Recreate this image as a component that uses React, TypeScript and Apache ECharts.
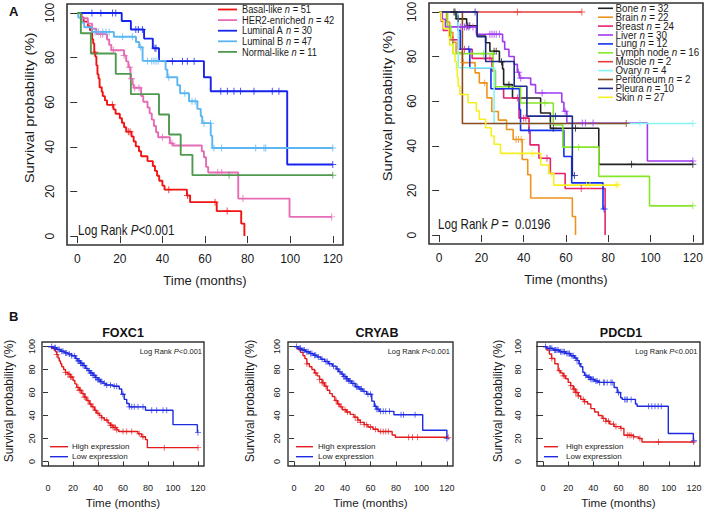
import React, { useEffect, useRef } from "react";
import * as echarts from "echarts";

// ---------- tick labels ----------
const xTicks = [0, 20, 40, 60, 80, 100, 120];
const yTicks = [0, 20, 40, 60, 80, 100];

// ---------- Panel A (PAM50 subtypes): steps [time, survival %], censor times ----------
const basalSteps = [[0,100],[2,98],[3,96.1],[5,94.1],[6,92.2],[7,88.2],[7.5,86.3],[8,82.4],[8.5,80.4],[9,76.5],[9.5,72.5],[10,70.6],[10.5,66.7],[11.5,64.7],[12,62.7],[13,60.8],[14,58.8],[17,56.8],[18,54.8],[20,52.8],[21,50.8],[22,48.8],[23,46.8],[25.5,44.6],[26.5,42.4],[27.5,40.2],[29,38],[30,35.8],[33,33.6],[35.5,31.4],[36.5,29.2],[37.5,27],[38.5,24.8],[40,22.6],[41,20.8],[51.5,18.2],[53,15.2],[65.5,11.2],[77,5.6],[78.5,0]];
const basalCensor = [8.2, 16.5, 24, 24.8, 43, 51.8, 64.7, 70.4];
const her2Steps = [[0,100],[2,97.6],[5,95.2],[7,92.9],[9,90.5],[14,88.1],[15,85.7],[16,83.3],[22,80.9],[23,78.3],[24,75.7],[25,70.5],[26,67.9],[26.5,66.5],[30,62.8],[31,60.2],[33,57.6],[34,55],[35,52.2],[36,49.3],[37,46.5],[38,44.3],[43.5,41.6],[45,40.6],[58.5,38],[59.5,35.3],[60.5,31],[61.5,28.5],[75.6,16.8],[99.7,8.6]];
const her2Censor = [11, 12, 17, 22, 24.5, 25.5, 27, 29, 40, 44.5, 66, 67.8, 77.8, 119.5];
const lumASteps = [[0,100],[20.9,96.4],[25.2,92.6],[31.4,88.5],[35.5,84.2],[38.4,78.4],[59.5,71.2],[62.7,64.9],[98.6,32.1]];
const lumACensor = [6.9, 11.1, 16.6, 18.1, 27.5, 28.7, 30.6, 36.5, 37, 44.7, 49.4, 51.7, 54.9, 67.4, 70.5, 73.6, 76.7, 83, 91.6, 94.7, 120];
const lumBSteps = [[0,100],[0.5,97.9],[2,95.7],[3.3,93.6],[6.9,91.5],[17.2,89.3],[27.6,87],[29.1,84.6],[30.7,78.5],[41.5,74.6],[42.3,71.2],[47,67.6],[48.3,64],[52.5,60.4],[56.4,57],[58,53.7],[58.7,50.6],[62.7,45],[63.4,39.5]];
const lumBCensor = [8.3, 10, 12, 13.5, 15, 21.3, 25.9, 29.8, 33, 35, 36, 37, 38, 43, 50.5, 53.9, 55.4, 59.5, 62.6, 64.2, 67.8, 83.8, 87.7, 88.5, 120];
const normalSteps = [[0,100],[1.7,90.9],[6.4,81.8],[18.1,72.7],[25.2,63.6],[38.4,54.5],[43.1,45.5],[48.6,36.4],[54.1,27.3]];
const normalCensor = [71.3, 120];

// ---------- Panel A right (metastatic sites) ----------
const boneSteps = [[0,100],[8,96.9],[13,93.8],[18,89.2],[22,86.2],[24,82.4],[28.5,77.7],[30,74.5],[30.5,67.4],[34.7,61.4],[48,54.7],[52.6,47.9],[75.5,31.7]];
const boneCensor = [7, 7.5, 9, 13.5, 14.5, 26, 27, 29.5, 33, 54, 64.5, 91, 120];
const brainSteps = [[0,100],[3.5,95.5],[5,90.9],[6.5,86.4],[8,81.8],[11,77.3],[17,72.7],[19,68.2],[22.6,61.5],[24.9,55.4],[28,51.5],[31.9,47.3],[35,42.8],[39.3,33.9],[41.9,27],[43.3,16.6],[63,8.3],[64.5,0]];
const brainCensor = [11.5, 21.5, 36.4, 37.5, 38.8];
const breastSteps = [[0,100],[1,95.8],[2,91.7],[5,87.5],[9,83.3],[15.6,79.2],[25,73.6],[26.6,65.5],[30.5,61.4],[37.8,52.4],[42.5,46.4],[43,40.4],[47.2,34.4],[52.6,27.6],[59.6,20.9],[78.5,0]];
const breastCensor = [6.5, 12, 24, 37, 40, 41, 51, 67.2];
const liverSteps = [[0,100],[1.5,96.7],[3,93.3],[17.6,90],[30,86.7],[31,83.3],[33,80],[35.5,76.5],[37,73],[38,70.4],[43.3,67.4],[45.6,63.7],[58,59.5],[59,55.5],[60.4,50.2],[98.5,33.2]];
const liverCensor = [10, 11, 12, 13, 14, 16, 24, 25, 26, 27, 28.5, 37.5, 38.6, 48.7, 59.6, 67.7, 69.2, 72.8, 120];
const lungSteps = [[0,100],[9,91.7],[10,83.3],[14.5,75],[24.5,65.6],[38,56.3],[38.5,46.9],[59,35.2],[62.7,23.4],[77.5,11.7]];
const lungCensor = [14, 42.5, 78];
const lymphSteps = [[0,100],[4,93.8],[5.5,87.5],[6.5,81.3],[25.5,73.9],[26.5,66.5],[38.5,59.2],[54,49.3],[58.5,39.4],[75.5,26.3],[99.5,13.1]];
const lymphCensor = [21, 25, 50, 66, 120];
const muscleSteps = [[0,100]];
const muscleCensor = [37, 67.5];
const ovarySteps = [[0,100],[9,75],[26,50]];
const ovaryCensor = [95, 120];
const peritoneumSteps = [[0,100],[11,50]];
const peritoneumCensor = [88.5];
const pleuraSteps = [[0,100],[18,88.9],[22,77.8],[35.5,66.7],[41.5,53.3],[63,26.7]];
const pleuraCensor = [17, 55, 64];
const skinSteps = [[0,100],[1,96.3],[2,92.6],[4.5,88.9],[5,85.2],[6.5,81.5],[7.5,77.8],[8.2,74.1],[8.6,70.4],[9,66.7],[9.8,63],[13.7,59.3],[17.6,55.6],[19,51.9],[22,48.1],[24.6,44.4],[26,40.7],[29,36.6],[48,31.4],[51.8,27.6],[54.2,22.4]];
const skinCensor = [44, 53, 69.7, 71.3, 83.7, 84.5];

// ---------- Panel B (gene expression) ----------
const foxHighSteps = [[0,100],[3,98.5],[5,97],[6,95.5],[7,93],[8,90],[9,87.5],[10,85],[11,82.5],[12.5,80],[14,77.5],[16,76],[18,73.5],[20,70.5],[21.5,67.5],[23,64.5],[25,62],[27,59],[29,56],[31,53],[33,50],[35,47.5],[37,44.5],[39,42],[41,40],[43,38],[45,36],[48,33.5],[50,31.5],[52,29.5],[55,27.5],[56.5,26],[72,24],[75,21.5],[78,19],[79.5,12]];
const foxHighCensor = [7, 14, 16, 17, 18, 19, 24, 25, 26, 28, 29, 30, 32, 34, 36, 38, 40, 43, 47, 50, 51, 52, 53, 54, 55, 60, 63, 67, 73, 76, 93, 120];
const foxLowSteps = [[0,100],[4,99],[7,97.5],[10,96],[13,94.5],[16,93.5],[19,92],[22,89.5],[24,87.5],[26,85.5],[28,83.5],[30,81],[32,79],[34,77],[36,75],[38,73],[40,71],[42,69.5],[44,68],[46,66.5],[52,65.5],[57,63],[59,58.5],[61,54],[63,50.5],[65,47.5],[78,44.5],[100,32],[119.5,25]];
const foxLowCensor = [3, 5, 6, 8, 9, 11, 12, 14, 15, 17, 19, 21, 23, 24, 25, 26, 27, 28, 29, 31, 33, 34, 35, 36, 37, 38, 39, 40, 41, 42, 43, 45, 47, 50, 53, 55, 60, 65, 67, 69, 72, 76, 83, 87, 92, 95, 120];
const cryHighSteps = [[0,100],[3,97.5],[5,95],[7,92],[8.5,89.5],[10,85],[12,82.5],[14,80],[16,77],[18,74.5],[20,71.5],[22,68.5],[24,65.5],[26,62],[28,59],[30,56.5],[32,53],[34,50],[36,47.5],[38,45],[41,43],[44,41],[47,38.5],[50,36],[52,34],[55,32],[58,30],[62,28],[66,26],[77,23],[79.5,21]];
const cryHighCensor = [10, 17, 20, 22, 23, 25, 33, 35, 37, 40, 42, 48, 50, 52, 55, 57, 60, 64, 68, 70, 72, 74, 90, 93, 97, 121];
const cryLowSteps = [[0,100],[3,98.5],[6,97],[9,95.5],[12,94],[15,92.5],[18,91],[21,89],[24,87],[27,85],[30,83],[33,80.5],[35,78],[37,76],[39,74],[41,72],[43,70],[45,68],[48,65],[51,63],[54,61],[57,58.5],[61,52.5],[63,48],[65,45.5],[67,43.6],[78.4,40.7],[101,27.2],[120,20]];
const cryLowCensor = [2, 4, 5, 7, 8, 10, 11, 13, 14, 16, 17, 19, 22, 25, 26, 28, 31, 34, 36, 38, 39, 40, 41, 42, 43, 44, 46, 47, 49, 50, 52, 53, 55, 58, 60, 64, 65, 66, 68, 70, 72, 75, 84, 86, 95, 120];
const pdHighSteps = [[0,100],[3,97],[5,93.5],[6.8,89.6],[9.4,85],[12,79],[14,77],[16,74.5],[18,72],[20,68.8],[22,66],[24,63],[26,60],[28,57],[30,54],[33,52],[35.5,50],[38,46],[41,43],[44,40],[47,37.5],[50,35],[53,32.5],[56.5,30.3],[61.7,28.8],[64.3,22.8],[72,21.4],[76,19.9],[78.7,16.9]];
const pdHighCensor = [7, 13, 16, 17, 22, 24, 25, 26, 27, 28, 32, 33, 48, 50, 52, 56, 58, 62, 67, 68.5, 70, 72, 77, 91.8, 119.5];
const pdLowSteps = [[0,100],[3,98.5],[8,97],[13,95.5],[18,94],[22,92],[25,90],[27,88],[28.5,85],[30,82.5],[31.6,77.7],[33,75],[35,73.3],[38,71.5],[41,70],[44,68.8],[56.5,64.4],[59,60],[61.7,55.5],[63,54],[73.5,50],[74.8,48],[99.6,24.3],[119.5,18]];
const pdLowCensor = [2, 5, 6, 7, 9, 10, 11, 12, 14, 15, 16, 17, 19, 20, 21, 23, 24, 26, 27, 29, 34, 36, 37, 38, 39, 40, 42, 43, 45, 48, 49, 51, 54, 55, 60, 65, 66, 67, 70, 84, 86.5, 89, 91.5, 94, 120];

// ---------- helpers ----------
const FONT = "'Liberation Sans', Arial, Helvetica, sans-serif";
const INK = "#1a1a1a";
const CROSS = "path://M4.3,0H5.7V10H4.3Z M0,4.3H10V5.7H0Z";

function survivalAt(steps: number[][], t: number) {
  let s = steps[0][1];
  for (const p of steps) {
    if (p[0] <= t) s = p[1];
    else break;
  }
  return s;
}

function curve(name: string, grid: number, color: string, steps: number[][], censor: number[], lw: number, sym: number) {
  const data = steps.map((p) => [p[0], p[1]]);
  const lastT = Math.max(data[data.length - 1][0], ...censor);
  if (lastT > data[data.length - 1][0]) data.push([lastT, data[data.length - 1][1]]);
  return [
    {
      type: "line", name, xAxisIndex: grid, yAxisIndex: grid, data, step: "end",
      showSymbol: false, symbol: "none", silent: true, z: 3,
      lineStyle: { color, width: lw }, itemStyle: { color },
    },
    {
      type: "scatter", name: name + " (censored)", xAxisIndex: grid, yAxisIndex: grid,
      data: censor.map((t) => [t, survivalAt(steps, t)]),
      symbol: CROSS, symbolSize: sym, silent: true, z: 4, itemStyle: { color },
    },
  ];
}

const grids = [
  { left: 67, top: 4, width: 276, height: 241, bw: 1.6 },
  { left: 429, top: 3, width: 274, height: 241, bw: 1.6 },
  { left: 42, top: 342, width: 162, height: 124, bw: 1.4 },
  { left: 288, top: 342, width: 165, height: 124, bw: 1.4 },
  { left: 537, top: 342, width: 163, height: 124, bw: 1.4 },
];
const xAxisCfg = [
  { fs: 12, margin: 8, tick: 7, nfs: 13, gap: 29 },
  { fs: 12, margin: 8, tick: 7, nfs: 13, gap: 29 },
  { fs: 9, margin: 17, tick: 5, nfs: 11.6, gap: 30 },
  { fs: 9, margin: 17, tick: 5, nfs: 11.6, gap: 30 },
  { fs: 9, margin: 17, tick: 5, nfs: 11.6, gap: 30 },
];
const yAxisCfg = [
  { fs: 12, margin: 11, tick: 7 },
  { fs: 12, margin: 11, tick: 7 },
  { fs: 9, margin: 6, tick: 5 },
  { fs: 9, margin: 6.5, tick: 5 },
  { fs: 9, margin: 15, tick: 7 },
];

const panelA = [
  { name: "Basal-like", n: 51, color: "#F01414", steps: basalSteps, censor: basalCensor },
  { name: "HER2-enriched", n: 42, color: "#E66CB6", steps: her2Steps, censor: her2Censor },
  { name: "Luminal A", n: 30, color: "#1624EC", steps: lumASteps, censor: lumACensor },
  { name: "Luminal B", n: 47, color: "#5CB6F2", steps: lumBSteps, censor: lumBCensor },
  { name: "Normal-like", n: 11, color: "#4F9A4F", steps: normalSteps, censor: normalCensor },
];
const panelA2 = [
  { name: "Bone", n: 32, color: "#222222", steps: boneSteps, censor: boneCensor },
  { name: "Brain", n: 22, color: "#F0921E", steps: brainSteps, censor: brainCensor },
  { name: "Breast", n: 24, color: "#E8206E", steps: breastSteps, censor: breastCensor },
  { name: "Liver", n: 30, color: "#A03AF0", steps: liverSteps, censor: liverCensor },
  { name: "Lung", n: 12, color: "#1430F0", steps: lungSteps, censor: lungCensor },
  { name: "Lymph node", n: 16, color: "#86E62A", steps: lymphSteps, censor: lymphCensor },
  { name: "Muscle", n: 2, color: "#E83C3C", steps: muscleSteps, censor: muscleCensor },
  { name: "Ovary", n: 4, color: "#86F5F5", steps: ovarySteps, censor: ovaryCensor },
  { name: "Peritoneum", n: 2, color: "#8B4A1E", steps: peritoneumSteps, censor: peritoneumCensor },
  { name: "Pleura", n: 10, color: "#1E2A8C", steps: pleuraSteps, censor: pleuraCensor },
  { name: "Skin", n: 27, color: "#F5F01E", steps: skinSteps, censor: skinCensor },
];
const RED = "#E41A1C";
const BLUE = "#1F2BE0";
const panelB = [
  { gene: "FOXC1", high: foxHighSteps, highC: foxHighCensor, low: foxLowSteps, lowC: foxLowCensor },
  { gene: "CRYAB", high: cryHighSteps, highC: cryHighCensor, low: cryLowSteps, lowC: cryLowCensor },
  { gene: "PDCD1", high: pdHighSteps, highC: pdHighCensor, low: pdLowSteps, lowC: pdLowCensor },
];

function richText(x: number, y: number, text: string, fs: number, align: string, sy: number, weight = "normal") {
  return {
    type: "text", x, y, scaleY: sy, silent: true,
    style: {
      text, align, verticalAlign: "middle",
      rich: {
        t: { fontSize: fs, fontFamily: FONT, fill: INK, fontWeight: weight },
        i: { fontSize: fs, fontFamily: FONT, fill: INK, fontStyle: "italic" },
      },
    },
  };
}

function buildOption() {
  const series: any[] = [];
  panelA.forEach((c) => series.push(...curve(c.name, 0, c.color, c.steps, c.censor, 1.9, 7)));
  panelA2.forEach((c) => series.push(...curve(c.name, 1, c.color, c.steps, c.censor, 1.6, 7)));
  panelB.forEach((p, k) => {
    series.push(...curve(p.gene + " high expression", 2 + k, RED, p.high, p.highC, 1.4, 6));
    series.push(...curve(p.gene + " low expression", 2 + k, BLUE, p.low, p.lowC, 1.4, 6));
  });

  const graphic: any[] = [];
  // panel letters
  graphic.push({ type: "text", x: 9, y: 11, silent: true, style: { text: "A", fontSize: 13, fontWeight: "bold", fontFamily: FONT, fill: "#111", verticalAlign: "middle" } });
  graphic.push({ type: "text", x: 9, y: 316, silent: true, style: { text: "B", fontSize: 13, fontWeight: "bold", fontFamily: FONT, fill: "#111", verticalAlign: "middle" } });

  // y titles
  const yTitles = [
    { x: 30, y: 108, fs: 12.5, sx: 1.18 },
    { x: 388, y: 106, fs: 12.5, sx: 1.18 },
    { x: 9, y: 401, fs: 12, sx: 1 },
    { x: 250, y: 401, fs: 12, sx: 1 },
    { x: 498, y: 401, fs: 12, sx: 1 },
  ];
  yTitles.forEach((t) =>
    graphic.push({
      type: "text", x: t.x, y: t.y, rotation: Math.PI / 2, scaleX: t.sx, silent: true,
      style: { text: "Survival probability (%)", fontSize: t.fs, fontFamily: FONT, fill: INK, align: "center", verticalAlign: "middle" },
    })
  );

  // legend panel A
  panelA.forEach((c, i) => {
    const y = 9.5 + i * 10.6;
    graphic.push({ type: "line", silent: true, shape: { x1: 218, y1: y, x2: 237, y2: y }, style: { stroke: c.color, lineWidth: 1.8 } });
    graphic.push(richText(242, y, `{t|${c.name} }{i|n}{t| = ${c.n}}`, 9.3, "left", 1.12));
  });
  // legend panel A2
  panelA2.forEach((c, i) => {
    const y = 8.3 + i * 8.9;
    graphic.push({ type: "line", silent: true, shape: { x1: 598, y1: y, x2: 613, y2: y }, style: { stroke: c.color, lineWidth: 1.6 } });
    graphic.push(richText(615.5, y, `{t|${c.name} }{i|n}{t| = ${c.n}}`, 9.8, "left", 1.05));
  });
  // log rank texts
  graphic.push(richText(78, 230, "{t|Log Rank }{i|P}{t|<0.001}", 11.6, "left", 1.2));
  graphic.push(richText(438, 224, "{t|Log Rank }{i|P}{t| =  0.0196}", 11.6, "left", 1.2));

  // panel B decorations
  const bLegend = [
    { l1: 50, l2: 68, tx: 72, right: 202, cx: 123 },
    { l1: 296, l2: 313, tx: 318, right: 450, cx: 377 },
    { l1: 544, l2: 558, tx: 566, right: 697.5, cx: 621 },
  ];
  panelB.forEach((p, k) => {
    const b = bLegend[k];
    graphic.push({ type: "text", x: b.cx, y: 333, silent: true, style: { text: p.gene, fontSize: 12.5, fontWeight: "bold", fontFamily: FONT, fill: "#111", align: "center", verticalAlign: "middle" } });
    graphic.push(richText(b.right, 351, "{t|Log Rank }{i|P}{t|<0.001}", 7.5, "right", 1));
    [["High expression", RED, 446.7], ["Low expression", BLUE, 456.7]].forEach(([label, col, y]: any) => {
      graphic.push({ type: "line", silent: true, shape: { x1: b.l1, y1: y, x2: b.l2, y2: y }, style: { stroke: col, lineWidth: 1.4 } });
      graphic.push({ type: "text", x: b.tx, y, silent: true, style: { text: label, fontSize: 8, fontFamily: FONT, fill: INK, align: "left", verticalAlign: "middle" } });
    });
  });

  return {
    animation: false,
    backgroundColor: "#ffffff",
    grid: grids.map((g) => ({
      left: g.left, top: g.top, width: g.width, height: g.height,
      show: true, borderColor: "#333", borderWidth: g.bw, backgroundColor: "transparent",
      containLabel: false, outerBoundsMode: "none",
    })),
    xAxis: grids.map((_, i) => ({
      type: "value", gridIndex: i, min: -4.8, max: 124.8,
      axisLine: { show: false }, splitLine: { show: false },
      axisTick: { show: true, inside: false, length: xAxisCfg[i].tick, lineStyle: { color: "#333", width: 1 }, customValues: xTicks },
      axisLabel: { show: true, customValues: xTicks, fontSize: xAxisCfg[i].fs, color: INK, margin: xAxisCfg[i].margin, fontFamily: FONT },
      name: "Time (months)", nameLocation: "middle", nameGap: xAxisCfg[i].gap,
      nameTextStyle: { fontSize: xAxisCfg[i].nfs, color: INK, fontFamily: FONT },
    })),
    yAxis: grids.map((_, i) => ({
      type: "value", gridIndex: i, min: -4, max: 104,
      axisLine: { show: false }, splitLine: { show: false },
      axisTick: { show: true, inside: false, length: yAxisCfg[i].tick, lineStyle: { color: "#333", width: 1 }, customValues: yTicks },
      axisLabel: { show: true, customValues: yTicks, rotate: 90, fontSize: yAxisCfg[i].fs, color: INK, margin: yAxisCfg[i].margin, fontFamily: FONT },
    })),
    series,
    graphic,
  };
}

export default function App() {
  const ref = useRef<HTMLDivElement>(null);
  useEffect(() => {
    const chart = echarts.init(ref.current as HTMLDivElement, undefined, { renderer: "svg" });
    chart.setOption(buildOption() as any);
    return () => chart.dispose();
  }, []);
  return (
    <div
      ref={ref}
      style={{ position: "fixed", left: 0, top: 0, width: 709, height: 511, background: "#fff" }}
    />
  );
}
